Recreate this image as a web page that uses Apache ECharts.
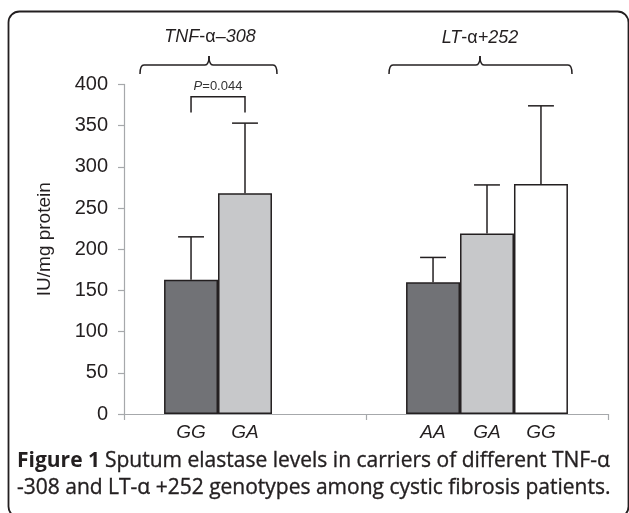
<!DOCTYPE html>
<html>
<head>
<meta charset="utf-8">
<script src="https://cdn.jsdelivr.net/npm/echarts@6/dist/echarts.min.js"></script>
<style>
html,body{margin:0;padding:0;background:#fff;}
#chart{width:629px;height:513px;}
</style>
</head>
<body>
<div id="chart"></div>
<script>
// ---- data ----
const categories = ['TNF-α −308', 'LT-α +252'];
const yTicks = [0, 50, 100, 150, 200, 250, 300, 350, 400];
const darkLabels = ['GG', 'AA'];
const darkValues = [163, 160];
const darkErrTop = [215, 190];
const lightLabels = ['GA', 'GA'];
const lightValues = [268, 219];
const lightErrTop = [353, 278];
const whiteLabels = [null, 'GG'];
const whiteValues = [null, 279];
const whiteErrTop = [null, 374];
const pValueText = 'P=0.044';

const INK = '#231f20';
const AXIS = '#a6a8ab';
const BW = 0.223; // bar width as fraction of category band

const chart = echarts.init(document.getElementById('chart'));

function barSeries(name, values, labels, color) {
  return {
    name: name,
    type: 'bar',
    data: values,
    barWidth: (BW * 100) + '%',
    barGap: '0%',
    itemStyle: { color: color, borderColor: INK, borderWidth: 1.5 },
    label: {
      show: true,
      position: ['50%', '100%'],
      offset: [0, 9],
      align: 'center',
      verticalAlign: 'top',
      fontFamily: 'Liberation Sans',
      fontStyle: 'italic',
      fontSize: 19,
      color: INK,
      formatter: p => labels[p.dataIndex] || ''
    },
    emphasis: { disabled: true },
    z: 2
  };
}

const errData = [];
[[darkValues, darkErrTop], [lightValues, lightErrTop], [whiteValues, whiteErrTop]].forEach((pair, s) => {
  pair[0].forEach((v, i) => {
    if (v != null) errData.push([i, v, pair[1][i], s]);
  });
});

const capStyle = { fontFamily: 'Open Sans', fontSize: 21, color: INK, lineHeight: 27,
  textBorderColor: INK, textBorderWidth: 0.35 };

const option = {
  animation: false,
  backgroundColor: '#fff',
  title: {
    left: 17,
    top: 448,
    padding: 0,
    text: '{b|Figure 1} {n|Sputum elastase levels in carriers of different TNF-α}\n{n|-308 and LT-α +252 genotypes among cystic fibrosis patients.}',
    textStyle: {
      rich: {
        b: Object.assign({}, capStyle, { fontWeight: 'bold', textBorderWidth: 0 }),
        n: Object.assign({}, capStyle, { fontWeight: 'normal' })
      }
    }
  },
  grid: { left: 124, right: 21, top: 84.4, bottom: 99 },
  xAxis: {
    type: 'category',
    data: categories,
    axisLine: { lineStyle: { color: AXIS, width: 1.2 } },
    axisTick: { show: true, length: 6, lineStyle: { color: AXIS, width: 1.2 } },
    axisLabel: { show: false },
    splitLine: { show: false }
  },
  yAxis: {
    type: 'value',
    min: yTicks[0],
    max: yTicks[yTicks.length - 1],
    interval: 50,
    name: 'IU/mg protein',
    nameLocation: 'middle',
    nameRotate: 90,
    nameGap: 70,
    nameTextStyle: { fontFamily: 'Liberation Sans', fontSize: 19, color: INK, padding: [0, 0, 0, 20] },
    axisLine: { show: true, lineStyle: { color: AXIS, width: 1.2 } },
    axisTick: { show: true, length: 6, lineStyle: { color: AXIS, width: 1.2 } },
    axisLabel: { fontFamily: 'Liberation Sans', fontSize: 20, color: INK, margin: 16 },
    splitLine: { show: false }
  },
  series: [
    barSeries('dark', darkValues, darkLabels, '#717276'),
    barSeries('light', lightValues, lightLabels, '#c7c8ca'),
    barSeries('white', whiteValues, whiteLabels, '#ffffff'),
    {
      type: 'custom',
      data: errData,
      encode: { x: 0, y: 2 },
      z: 3,
      renderItem: function (params, api) {
        const band = api.size([1, 0])[0];
        const off = (api.value(3) - 1) * band * BW;
        const top = api.coord([api.value(0), api.value(2)]);
        const base = api.coord([api.value(0), api.value(1)]);
        const x = top[0] + off;
        const half = band * BW * 0.24;
        const st = { stroke: INK, lineWidth: 1.5 };
        return {
          type: 'group',
          children: [
            { type: 'line', shape: { x1: x, y1: base[1], x2: x, y2: top[1] }, style: st },
            { type: 'line', shape: { x1: x - half, y1: top[1], x2: x + half, y2: top[1] }, style: st }
          ]
        };
      }
    }
  ]
};
chart.setOption(option);

const brSt = { fill: null, stroke: INK, lineWidth: 1.5 };
function brace(x1, x2, xm, y) {
  const c = 4, h = 9;
  return [
    { type: 'bezierCurve', shape: { x1: x1, y1: y + h, x2: x1 + c, y2: y, cpx1: x1, cpy1: y }, style: brSt },
    { type: 'line', shape: { x1: x1 + c, y1: y, x2: xm - c, y2: y }, style: brSt },
    { type: 'bezierCurve', shape: { x1: xm - c, y1: y, x2: xm, y2: y - h, cpx1: xm, cpy1: y }, style: brSt },
    { type: 'bezierCurve', shape: { x1: xm, y1: y - h, x2: xm + c, y2: y, cpx1: xm, cpy1: y }, style: brSt },
    { type: 'line', shape: { x1: xm + c, y1: y, x2: x2 - c, y2: y }, style: brSt },
    { type: 'bezierCurve', shape: { x1: x2 - c, y1: y, x2: x2, y2: y + h, cpx1: x2, cpy1: y }, style: brSt }
  ];
}

// annotations
const cb = chart.convertToPixel({ xAxisIndex: 0 }, 1) - chart.convertToPixel({ xAxisIndex: 0 }, 0);
const xGA = chart.convertToPixel({ xAxisIndex: 0 }, 0);
const xGG = xGA - cb * BW;
const yBr = chart.convertToPixel({ yAxisIndex: 0 }, 385);
const yLeg = chart.convertToPixel({ yAxisIndex: 0 }, 366);

const italic = { fontFamily: 'Liberation Sans', fontStyle: 'italic', fontSize: 18, fill: INK };
const upright = { fontFamily: 'Liberation Sans', fontSize: 18, fill: INK };

chart.setOption({
  graphic: [
    { type: 'rect', shape: { x: 8.5, y: 11.5, width: 620, height: 506, r: 11 },
      style: { fill: null, stroke: INK, lineWidth: 1.8 }, silent: true },
    ...brace(140, 277, 209, 65),
    ...brace(389, 572, 480, 65),
    { type: 'text', x: 210, y: 37,
      style: { text: '{i|TNF}{u|-α}{i|–308}', align: 'center', verticalAlign: 'middle',
        rich: { i: italic, u: upright } } },
    { type: 'text', x: 480, y: 38,
      style: { text: '{i|LT}{u|-α}{i|+252}', align: 'center', verticalAlign: 'middle',
        rich: { i: italic, u: upright } } },
    { type: 'polyline', shape: { points: [[xGG, yLeg], [xGG, yBr], [xGA, yBr], [xGA, yLeg]] },
      style: { fill: null, stroke: INK, lineWidth: 1.5 } },
    { type: 'text', x: (xGG + xGA) / 2, y: yBr - 10,
      style: { text: '{i|P}{n|' + pValueText.slice(1) + '}', align: 'center', verticalAlign: 'middle',
        rich: { i: { fontFamily: 'Liberation Sans', fontStyle: 'italic', fontSize: 13, fill: '#333' },
                n: { fontFamily: 'Liberation Sans', fontSize: 13, fill: '#333' } } } }
  ]
});
</script>
</body>
</html>
